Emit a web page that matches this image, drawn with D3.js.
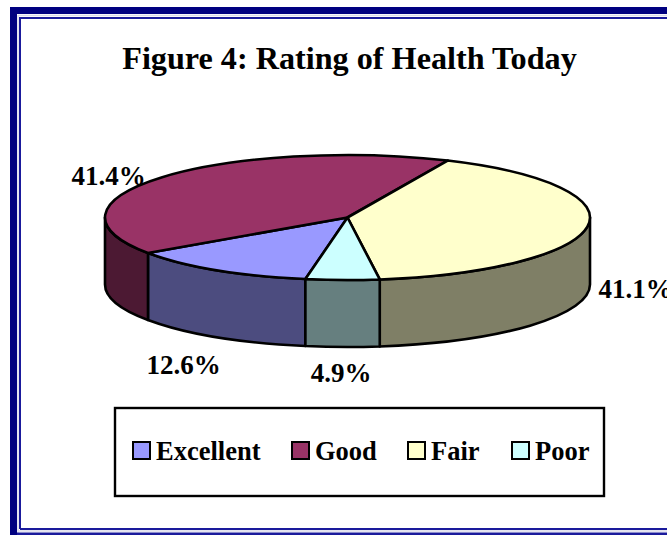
<!DOCTYPE html>
<html>
<head>
<meta charset="utf-8">
<script src="https://cdn.jsdelivr.net/npm/d3@7"></script>
<style>
  html, body { margin: 0; padding: 0; background: #fff; overflow: hidden; }
  text { font-family: "Liberation Serif", serif; font-weight: bold; fill: #000; }
</style>
</head>
<body>
<div id="chart"></div>
<script>
const categories = ['Excellent', 'Good', 'Fair', 'Poor'];
const shares = [12.6, 41.4, 41.1, 4.9];
const topColors = ['#9999ff', '#993366', '#ffffcc', '#ccffff'];
const sideColors = ['#4c4c7f', '#4c1933', '#7f7f66', '#667f7f'];
const labelPositions = [[183.5, 366], [108.5, 177], [635.5, 290], [341, 374]];

const width = 667, height = 535;
const rx = 242.5, ry = 62.5, depth = 67;

const svg = d3.select('#chart').append('svg')
  .attr('width', width).attr('height', height)
  .style('display', 'block');

const x = d3.scaleLinear().domain([-1, 1]).range([105, 590]);
const y = d3.scaleLinear().domain([-1, 1]).range([155, 280]);

/* ---
 * Helper: Point on the top ellipse, angle clockwise from 12 o'clock.
 */
function rim(a, drop = 0) {
  return [x(Math.sin(a)), y(-Math.cos(a)) + drop];
}

function ellipseArc(a0, a1, drop, sweep) {
  const [px, py] = rim(a1, drop);
  const large = Math.abs(a1 - a0) > Math.PI ? 1 : 0;
  return `A${rx},${ry} 0 ${large} ${sweep} ${px},${py}`;
}

/* ---
 * Frame: thick outer line, thin inner line.
 */
function drawFrame() {
  svg.append('path')
    .attr('d', 'M13.5,535V10.5H667')
    .attr('fill', 'none').attr('stroke', '#000080').attr('stroke-width', 7);
  svg.append('path')
    .attr('d', 'M20,529V18H667M20,529H667')
    .attr('fill', 'none').attr('stroke', '#1a1a9c').attr('stroke-width', 2);
  svg.append('path')
    .attr('d', 'M18,535V15.5H667M18,531H667')
    .attr('fill', 'none').attr('stroke', '#dcdcec').attr('stroke-width', 1.5);
  svg.append('rect')
    .attr('x', 17).attr('y', 532.5).attr('width', 650).attr('height', 2.5)
    .attr('fill', '#1a1a9c');
}

/* ---
 * Creates the walls and then the top faces of the pie.
 */
function drawPie() {
  const start = 190 * Math.PI / 180;
  const pie = d3.pie().value(d => d).sort(null)
    .startAngle(start).endAngle(start + 2 * Math.PI);
  const slices = pie(shares);

  const g = svg.append('g')
    .attr('stroke', '#000').attr('stroke-width', 2.6).attr('stroke-linejoin', 'round');

  // only the part of the rim facing the viewer has a wall
  const frontFrom = Math.PI / 2, frontTo = 3 * Math.PI / 2;
  slices.forEach(s => {
    for (const shift of [0, -2 * Math.PI]) {
      const a0 = Math.max(s.startAngle + shift, frontFrom);
      const a1 = Math.min(s.endAngle + shift, frontTo);
      if (a1 <= a0) continue;
      const [x0, y0] = rim(a0);
      const [x2, y2] = rim(a1);
      g.append('path')
        .attr('fill', sideColors[s.index])
        .attr('d', `M${x0},${y0}L${rim(a0, depth)}${ellipseArc(a0, a1, depth, 1)}L${x2},${y2}${ellipseArc(a1, a0, 0, 0)}Z`);
    }
  });

  slices.forEach(s => {
    const [x0, y0] = rim(s.startAngle);
    g.append('path')
      .attr('fill', topColors[s.index])
      .attr('d', `M${x(0)},${y(0)}L${x0},${y0}${ellipseArc(s.startAngle, s.endAngle, 0, 1)}Z`);
  });
}

function drawLabels() {
  svg.append('text')
    .attr('x', 349.5).attr('y', 69)
    .attr('text-anchor', 'middle').attr('font-size', 32.2)
    .text('Figure 4: Rating of Health Today');

  svg.selectAll('.pct')
    .data(shares)
    .enter().append('text')
    .attr('class', 'pct')
    .attr('x', (d, i) => labelPositions[i][0])
    .attr('y', (d, i) => labelPositions[i][1] + 8)
    .attr('text-anchor', 'middle').attr('font-size', 27)
    .text(d => d.toFixed(1) + '%');
}

function drawLegend() {
  svg.append('rect')
    .attr('x', 115).attr('y', 408).attr('width', 489).attr('height', 88)
    .attr('fill', '#fff').attr('stroke', '#000').attr('stroke-width', 2.4);

  const swatchX = d3.scaleOrdinal().domain(categories).range([133, 292, 408, 512]);
  const item = svg.selectAll('.item')
    .data(categories)
    .enter().append('g')
    .attr('class', 'item')
    .attr('transform', d => `translate(${swatchX(d)},442)`);

  item.append('rect')
    .attr('width', 17).attr('height', 17)
    .attr('fill', (d, i) => topColors[i])
    .attr('stroke', '#000').attr('stroke-width', 2);

  item.append('text')
    .attr('x', 23).attr('y', 18)
    .attr('font-size', 26.5)
    .text(d => d);
}

drawFrame();
drawPie();
drawLabels();
drawLegend();
</script>
</body>
</html>
